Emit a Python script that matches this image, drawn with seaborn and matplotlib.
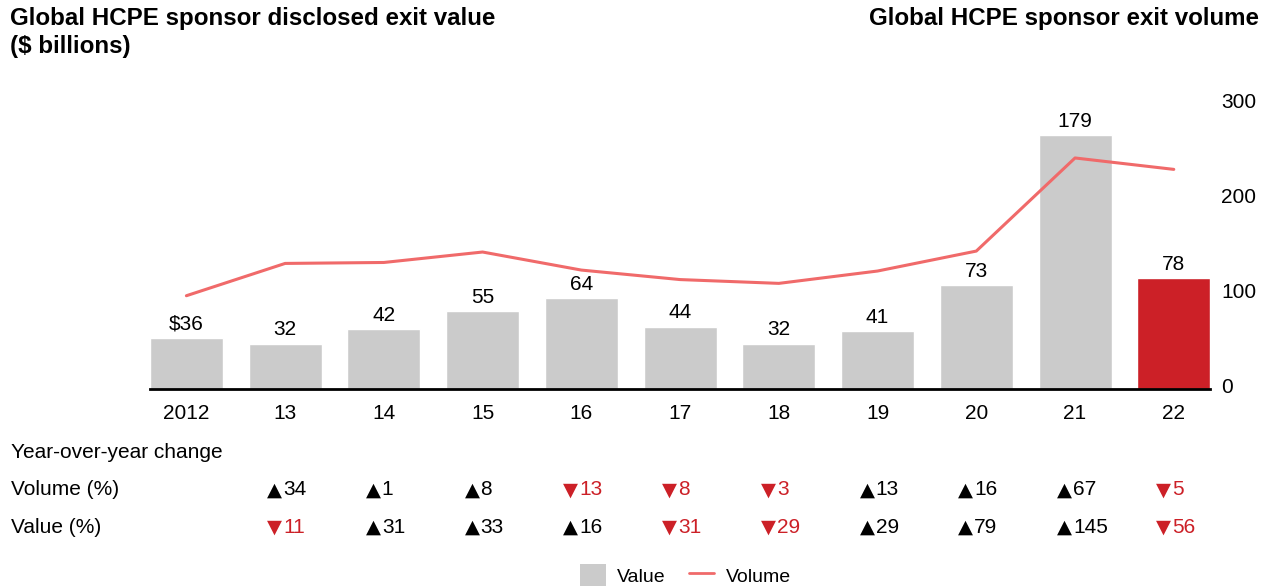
import numpy as np
import pandas as pd
import matplotlib
matplotlib.use("Agg")
import matplotlib.pyplot as plt
import matplotlib.transforms as mtransforms
from matplotlib.patches import Patch
from matplotlib.lines import Line2D
import seaborn as sns

# datos
years = ["2012", "13", "14", "15", "16", "17", "18", "19", "20", "21", "22"]
value = [36, 32, 42, 55, 64, 44, 32, 41, 73, 179, 78]
value_labels = ["$36", "32", "42", "55", "64", "44", "32", "41", "73", "179", "78"]
volume = [94, 128, 129, 140, 121, 111, 107, 120, 141, 239, 227]

# variacion interanual (desde 2013)
vol_change = [34, 1, 8, -13, -8, -3, 13, 16, 67, -5]
val_change = [-11, 31, 33, 16, -31, -29, 29, 79, 145, -56]

GRAY = "#CBCBCB"
RED = "#CC2027"
LINE_RED = "#F06A6A"

sns.set_style("white")
plt.rcParams["font.family"] = ["Liberation Sans", "DejaVu Sans"]
plt.rcParams["text.color"] = "black"
plt.rcParams["xtick.color"] = "black"
plt.rcParams["ytick.color"] = "black"

fig = plt.figure(figsize=(12.7, 5.88), dpi=100)
ax = fig.add_axes([0.118, 0.3384, 0.835, 0.4915])

df = pd.DataFrame({"year": years, "value": value})
colors = [GRAY] * (len(years) - 1) + [RED]
sns.barplot(data=df, x="year", y="value", hue="year", palette=colors,
            legend=False, width=0.74, saturation=1, ax=ax)
for cont, lab in zip(ax.containers, value_labels):
    ax.bar_label(cont, labels=[lab], padding=3, fontsize=15, color="black")

ax.set_xlim(-0.37, len(years) - 0.63)
ax.set_ylim(0, 203.5)
ax.set_xlabel("")
ax.set_ylabel("")
ax.set_yticks([])
ax.tick_params(axis="x", length=0, pad=11, labelsize=15)
for s in ["top", "right", "left"]:
    ax.spines[s].set_visible(False)
ax.spines["bottom"].set_color("black")
ax.spines["bottom"].set_linewidth(2)

ax2 = ax.twinx()
sns.lineplot(x=np.arange(len(years)), y=volume, color=LINE_RED, linewidth=2.2, ax=ax2)
ax2.set_ylim(-4.2, 300)
ax2.set_yticks([0, 100, 200, 300])
ax2.tick_params(axis="y", length=0, pad=8, labelsize=15)
for s in ["top", "right", "left", "bottom"]:
    ax2.spines[s].set_visible(False)
ax2.set_ylabel("")

# titulos
fig.text(0.008, 0.988, "Global HCPE sponsor disclosed exit value\n($ billions)",
         fontsize=17.4, fontweight="bold", va="top", ha="left", linespacing=1.3)
fig.text(0.991, 0.988, "Global HCPE sponsor exit volume",
         fontsize=17.4, fontweight="bold", va="top", ha="right")

# tabla de variacion interanual
fig.text(0.009, 0.2296, "Year-over-year change", fontsize=15, va="center")
fig.text(0.009, 0.1667, "Volume (%)", fontsize=15, va="center")
fig.text(0.009, 0.1037, "Value (%)", fontsize=15, va="center")

base = mtransforms.blended_transform_factory(ax.transData, fig.transFigure)
tri_tr = mtransforms.offset_copy(base, fig=fig, x=-18, y=0, units="dots")
num_tr = mtransforms.offset_copy(base, fig=fig, x=-2, y=0, units="dots")

for row_y, changes in [(0.1667, vol_change), (0.1037, val_change)]:
    for i, c in enumerate(changes, start=1):
        tri = "\u25B2" if c >= 0 else "\u25BC"
        col = "black" if c >= 0 else RED
        ax.text(i, row_y, tri, transform=tri_tr, ha="left", va="center",
                fontsize=14, color=col, family="DejaVu Sans")
        ax.text(i, row_y, str(abs(c)), transform=num_tr, ha="left", va="center",
                fontsize=15, color=col)

handles = [Patch(facecolor=GRAY, edgecolor="none", label="Value"),
           Line2D([0], [0], color=LINE_RED, linewidth=2, label="Volume")]
fig.legend(handles=handles, loc="center", bbox_to_anchor=(0.54, 0.022), ncol=2,
           frameon=False, fontsize=14, handlelength=1.3, handleheight=1.4,
           columnspacing=1.2, handletextpad=0.6)

fig.savefig("out.png", dpi=100)
